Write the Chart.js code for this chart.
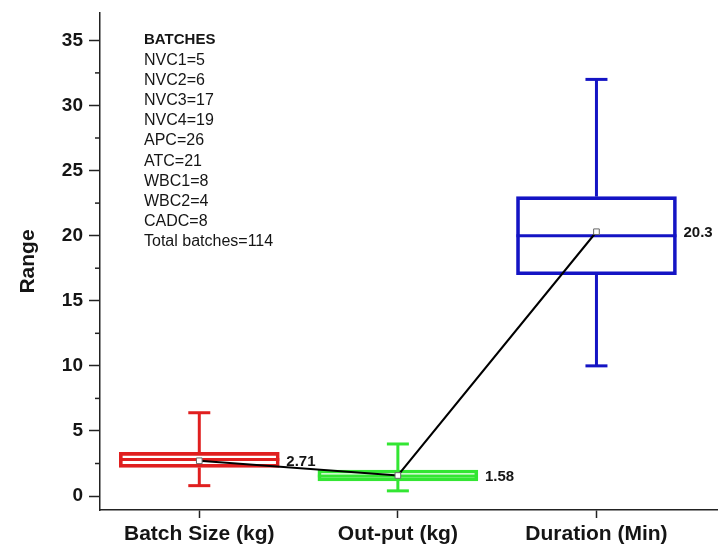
<!DOCTYPE html>
<html>
<head>
<meta charset="utf-8">
<script src="https://cdn.jsdelivr.net/npm/chart.js@4.4.1/dist/chart.umd.min.js"></script>
<style>
  html, body { margin: 0; padding: 0; background: #fff; }
</style>
</head>
<body>
<canvas id="chart" width="718" height="546"></canvas>
<script>
// ── Data ─────────────────────────────────────────────────────────
const categories  = ['Batch Size (kg)', 'Out-put (kg)', 'Duration (Min)'];
const whiskerLow  = [0.8, 0.4, 10];
const quartile1   = [2.2, 1.17, 17];
const medians     = [2.8, 1.55, 20];
const quartile3   = [3.35, 2.0, 23];
const whiskerHigh = [6.4, 4.0, 32];
const means       = [2.71, 1.58, 20.3];
const meanLabels  = ['2.71', '1.58', '20.3'];
const yTicks      = [0, 5, 10, 15, 20, 25, 30, 35];
const yMinorTicks = [2.5, 7.5, 12.5, 17.5, 22.5, 27.5, 32.5];
const batchNotes  = ['BATCHES', 'NVC1=5', 'NVC2=6', 'NVC3=17', 'NVC4=19', 'APC=26',
                     'ATC=21', 'WBC1=8', 'WBC2=4', 'CADC=8', 'Total batches=114'];

// ── Styling ──────────────────────────────────────────────────────
const boxColors = ['#e01f1f', '#33e633', '#1414c4'];
const BOX_WIDTH = 160;
const FONT      = '"Liberation Sans", Arial, sans-serif';
const INK       = '#151515';

const positions = categories.map((c, i) => i + 1);

// whisker stems, one dataset per category and side
const whiskerSets = [];
positions.forEach((x, i) => {
    [[whiskerLow[i], quartile1[i]], [quartile3[i], whiskerHigh[i]]].forEach(pair => {
        whiskerSets.push({
            type: 'line',
            data: pair.map(v => ({ x, y: v })),
            borderColor: boxColors[i],
            borderWidth: 3,
            pointRadius: 0
        });
    });
});

const capPoints = [];
const capColors = [];
positions.forEach((x, i) => {
    capPoints.push({ x, y: whiskerLow[i] }, { x, y: whiskerHigh[i] });
    capColors.push(boxColors[i], boxColors[i]);
});

// ── Plugin: minor ticks, mean labels, notes ──────────────────────
const annotate = {
    id: 'annotate',
    afterDraw(chart) {
        const { ctx, chartArea, scales: { x, y } } = chart;
        ctx.save();

        ctx.strokeStyle = '#222';
        ctx.lineWidth = 1.5;
        yMinorTicks.forEach(v => {
            const py = y.getPixelForValue(v);
            ctx.beginPath();
            ctx.moveTo(chartArea.left - 5, py);
            ctx.lineTo(chartArea.left, py);
            ctx.stroke();
        });

        ctx.fillStyle = INK;
        ctx.textBaseline = 'middle';
        ctx.font = `bold 15px ${FONT}`;
        means.forEach((m, i) => {
            ctx.fillText(meanLabels[i],
                x.getPixelForValue(positions[i]) + BOX_WIDTH / 2 + 7,
                y.getPixelForValue(m) + 1);
        });

        batchNotes.forEach((line, i) => {
            ctx.font = i === 0 ? `bold 15px ${FONT}` : `16px ${FONT}`;
            ctx.fillText(line, chartArea.left + 44, chartArea.top + 27 + i * 20.2);
        });

        ctx.restore();
    }
};

// drop the edge padding Chart.js reserves for tick labels
function noEdgePadding(scale) {
    scale.paddingTop = 0;
    scale.paddingBottom = 0;
    scale.paddingLeft = 0;
    scale.paddingRight = 0;
}

// ── Chart ────────────────────────────────────────────────────────
new Chart(document.getElementById('chart'), {
    type: 'bar',
    data: {
        datasets: [
            {
                type: 'line',
                data: positions.map((x, i) => ({ x, y: means[i] })),
                showLine: false,
                pointStyle: 'rect',
                pointRadius: 4,
                borderColor: '#666',
                backgroundColor: '#fff',
                borderWidth: 1
            },
            {
                type: 'line',
                data: positions.map((x, i) => ({ x, y: means[i] })),
                borderColor: '#000',
                borderWidth: 2,
                pointRadius: 0
            },
            {
                type: 'line',
                data: positions.map((x, i) => ({ x, y: medians[i] })),
                showLine: false,
                pointStyle: 'line',
                pointRadius: BOX_WIDTH / 2,
                borderColor: boxColors,
                borderWidth: 3
            },
            {
                type: 'line',
                data: capPoints,
                showLine: false,
                pointStyle: 'line',
                pointRadius: 11,
                borderColor: capColors,
                borderWidth: 3
            },
            ...whiskerSets,
            {
                type: 'bar',
                data: positions.map((x, i) => ({ x, y: [quartile1[i], quartile3[i]] })),
                borderColor: boxColors,
                backgroundColor: 'rgba(255,255,255,0)',
                borderWidth: 3,
                borderSkipped: false,
                barThickness: BOX_WIDTH
            }
        ]
    },
    options: {
        responsive: false,
        animation: false,
        layout: { autoPadding: false, padding: { top: 13, right: 1, left: 0, bottom: 0 } },
        plugins: {
            legend: { display: false },
            tooltip: { enabled: false }
        },
        scales: {
            x: {
                type: 'linear',
                offset: false,
                min: 0.5,
                max: 3.607,
                afterBuildTicks: scale => { scale.ticks = positions.map(v => ({ value: v })); },
                afterFit: scale => { scale.height = 36; noEdgePadding(scale); },
                grid: { offset: false, drawOnChartArea: false, tickLength: 8, tickColor: '#222', tickWidth: 1.5 },
                border: { color: '#222', width: 1.5 },
                ticks: {
                    padding: 4,
                    color: INK,
                    font: { family: FONT, size: 21, weight: 'bold' },
                    callback: v => categories[v - 1]
                }
            },
            y: {
                min: -1.07,
                max: 37.1,
                afterBuildTicks: scale => { scale.ticks = yTicks.map(v => ({ value: v })); },
                afterFit: scale => { scale.width = 100; noEdgePadding(scale); },
                grid: { drawOnChartArea: false, tickLength: 11, tickColor: '#222', tickWidth: 1.5 },
                border: { color: '#222', width: 1.5 },
                ticks: {
                    padding: 6,
                    color: INK,
                    font: { family: FONT, size: 19, weight: 'bold' }
                },
                title: {
                    display: true,
                    text: 'Range',
                    color: INK,
                    padding: { top: 16, bottom: 0 },
                    font: { family: FONT, size: 21, weight: 'bold' }
                }
            }
        }
    },
    plugins: [annotate]
});
</script>
</body>
</html>
